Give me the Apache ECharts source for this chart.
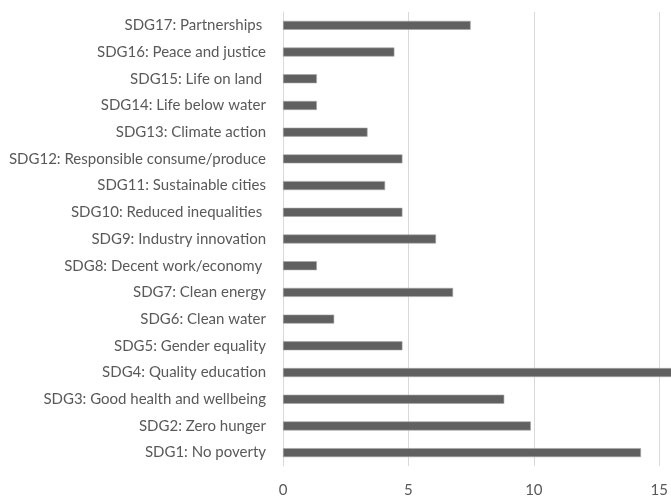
<!DOCTYPE html>
<html><head><meta charset="utf-8">
<script src="https://cdn.jsdelivr.net/npm/echarts@6/dist/echarts.min.js"></script>
<style>html,body{margin:0;padding:0;background:#fff}#c{width:671px;height:498px}</style>
</head><body><div id="c"></div>
<script>
const categories = [
  "SDG1: No poverty",
  "SDG2: Zero hunger",
  "SDG3: Good health and wellbeing",
  "SDG4: Quality education",
  "SDG5: Gender equality",
  "SDG6: Clean water",
  "SDG7: Clean energy",
  "SDG8: Decent work/economy ",
  "SDG9: Industry innovation",
  "SDG10: Reduced inequalities ",
  "SDG11: Sustainable cities",
  "SDG12: Responsible consume/produce",
  "SDG13: Climate action",
  "SDG14: Life below water",
  "SDG15: Life on land ",
  "SDG16: Peace and justice",
  "SDG17: Partnerships "
];
const values = [14.27, 9.88, 8.82, 15.5, 4.76, 2.04, 6.78, 1.35, 6.1, 4.76, 4.07, 4.76, 3.37, 1.35, 1.35, 4.44, 7.48];
const xTicks = [0, 5, 10, 15];

const chart = echarts.init(document.getElementById('c'));
const font = 'Lato, "Liberation Sans", sans-serif';
chart.setOption({
  animation: false,
  grid: { left: 283, right: 10, top: 12, bottom: 32, containLabel: false },
  xAxis: {
    type: 'value', min: 0, max: 15, interval: 5,
    axisLine: { show: false }, axisTick: { show: false },
    splitLine: { lineStyle: { color: '#d9d9d9', width: 1 } },
    axisLabel: { color: '#595959', fontFamily: font, fontSize: 15, margin: 17,
      formatter: v => xTicks.includes(v) ? String(v) : '' }
  },
  yAxis: {
    type: 'category', data: categories,
    axisLine: { show: true, lineStyle: { color: '#d9d9d9' } },
    axisTick: { show: false },
    axisLabel: { color: '#595959', fontFamily: font, fontSize: 15, margin: 17 }
  },
  series: [{
    type: 'bar', data: values, barWidth: 9, clip: false,
    itemStyle: { color: '#606060', borderColor: '#a6a6a6', borderWidth: 0.6 }
  }]
});
</script></body></html>
